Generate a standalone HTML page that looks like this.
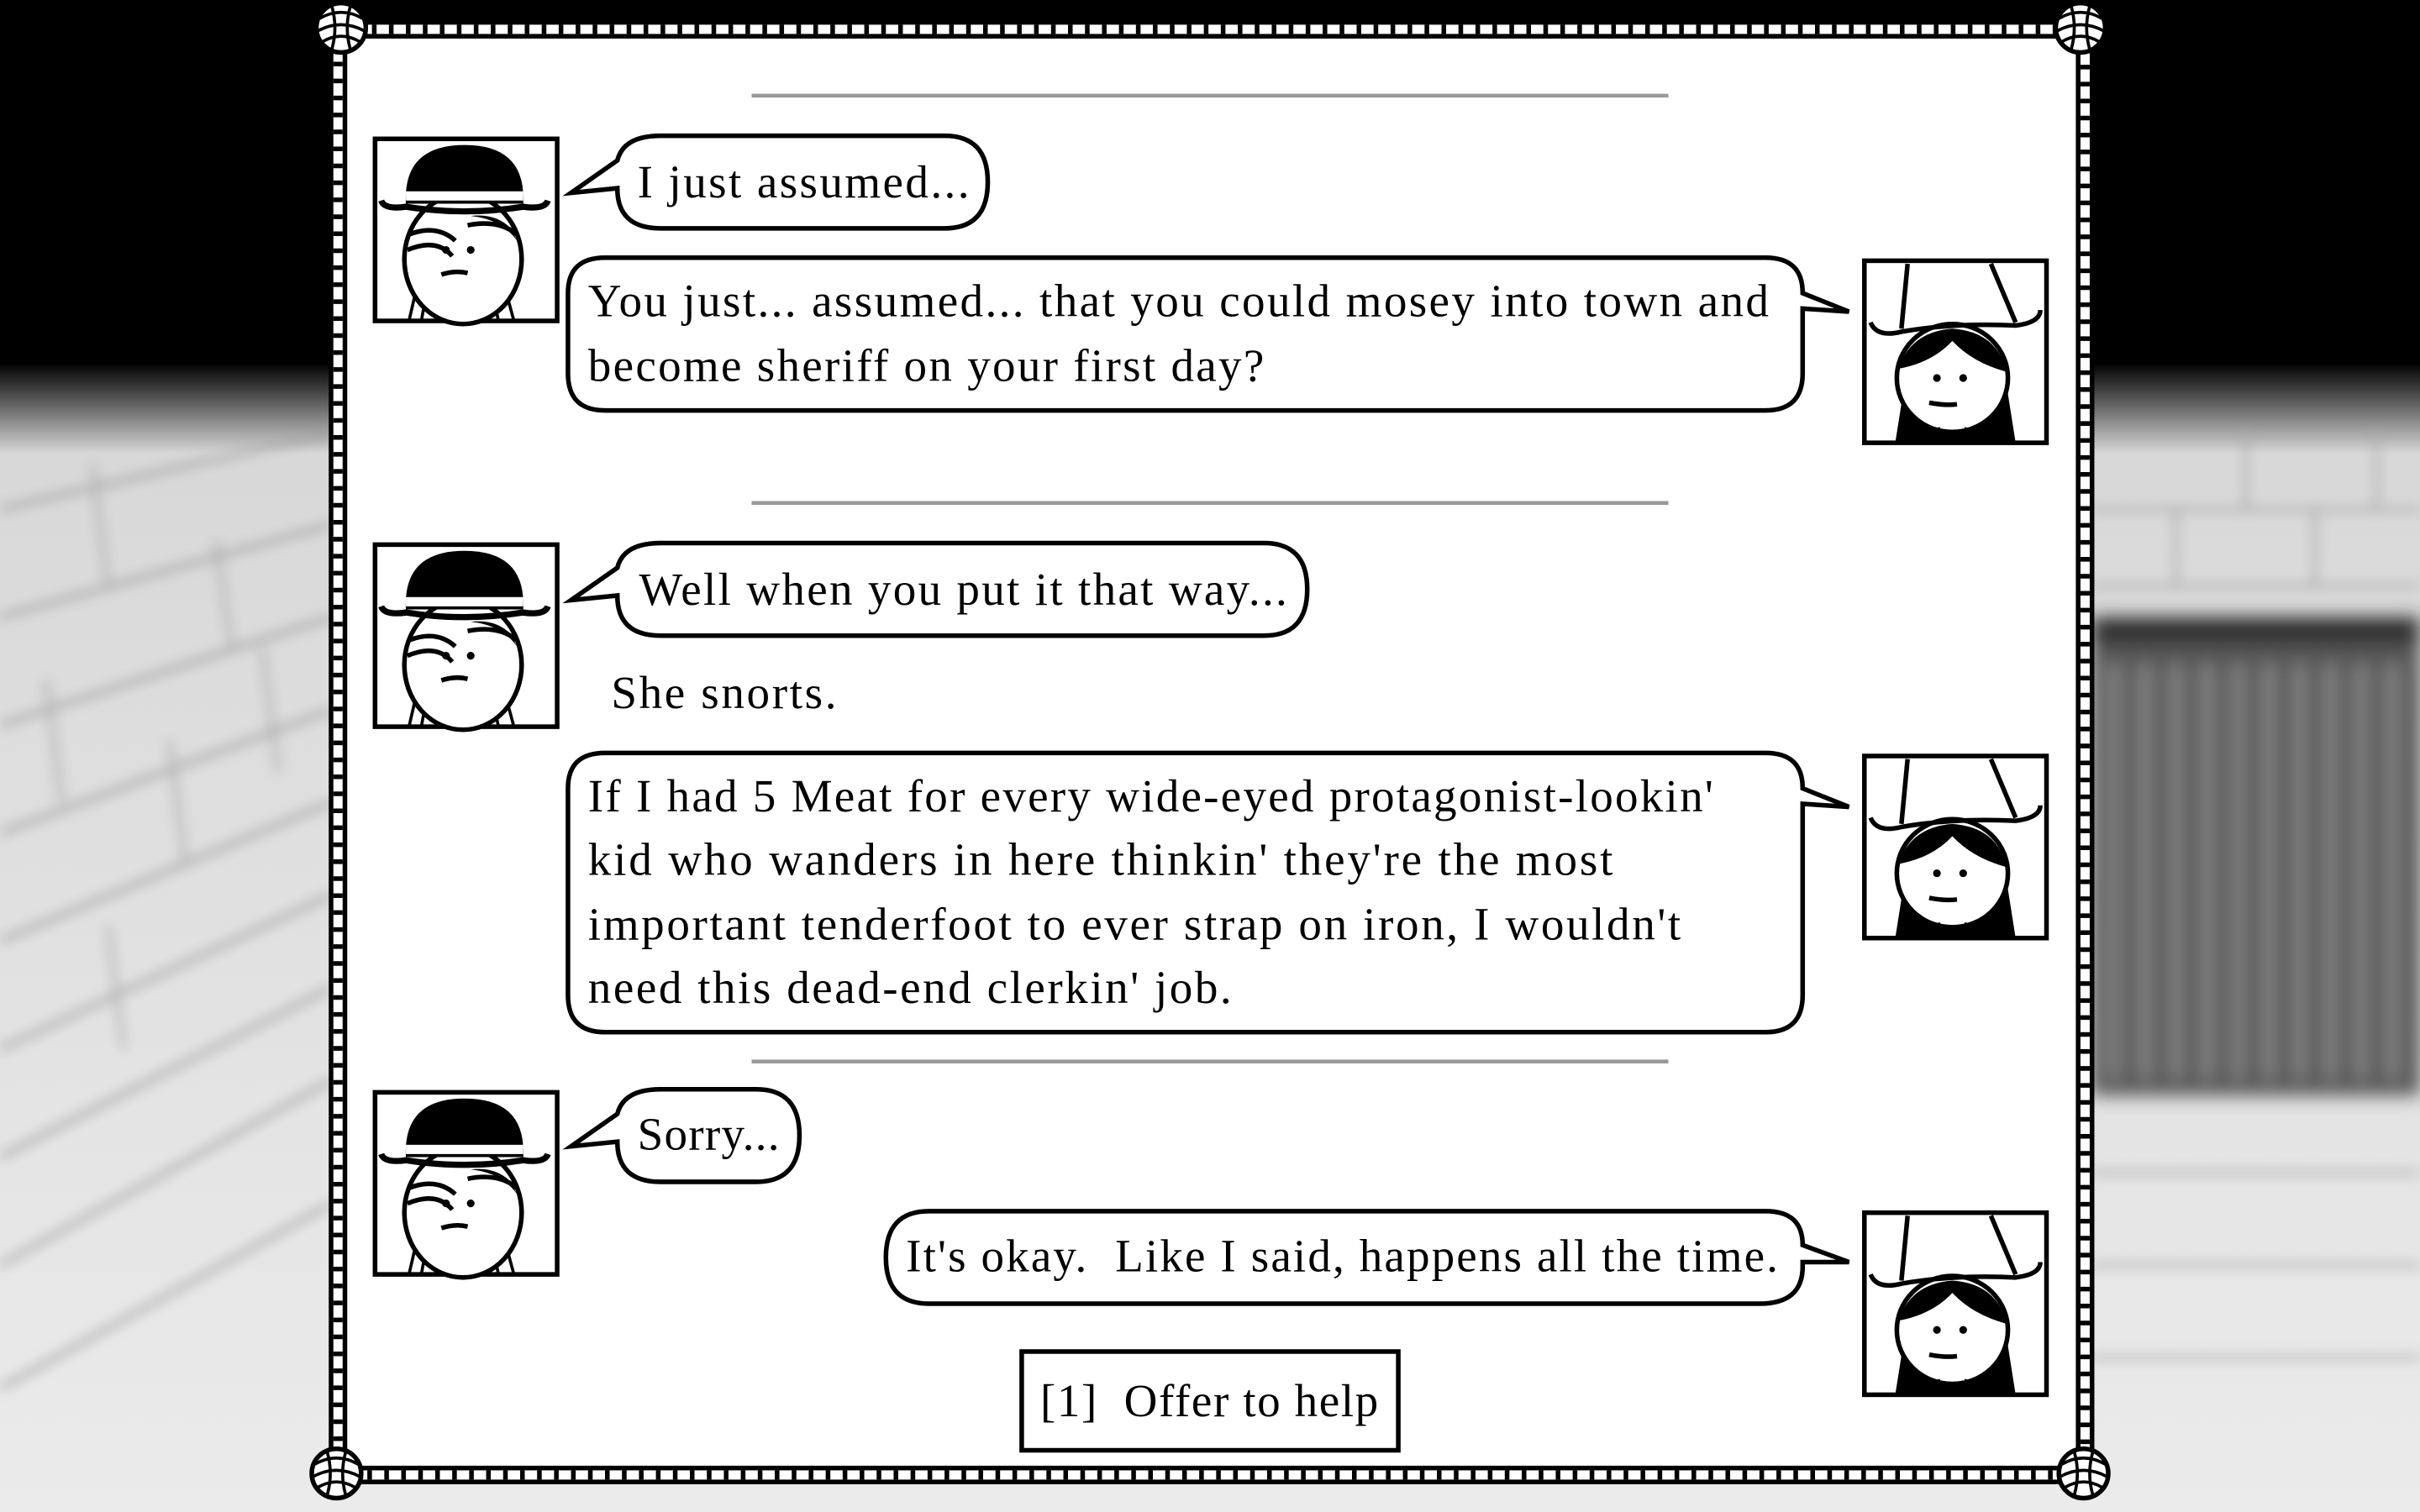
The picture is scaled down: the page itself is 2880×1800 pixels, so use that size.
<!DOCTYPE html>
<html><head><meta charset="utf-8"><style>
html,body{margin:0;padding:0;width:2880px;height:1800px;overflow:hidden;background:#000}
svg{display:block}
text{font-family:"Liberation Serif",serif;fill:#000}
</style></head><body>
<svg width="2880" height="1800" viewBox="0 0 1568 980" xmlns="http://www.w3.org/2000/svg">
<defs>
<linearGradient id="sky" x1="0" y1="0" x2="0" y2="1">
<stop offset="0" stop-color="#000"/><stop offset="0.24" stop-color="#000"/><stop offset="0.30" stop-color="#d8d8d8"/><stop offset="1" stop-color="#ebebeb"/>
</linearGradient>
<filter id="bl"><feGaussianBlur stdDeviation="4"/></filter>
<filter id="bl2"><feGaussianBlur stdDeviation="6"/></filter>
<g id="lp">
<rect x="0" y="0" width="118" height="118" fill="#fff" stroke="#000" stroke-width="3"/>
<line x1="28" y1="92" x2="22" y2="118" stroke="#000" stroke-width="2"/>
<line x1="34" y1="96" x2="30" y2="118" stroke="#000" stroke-width="2"/>
<line x1="76" y1="100" x2="80" y2="118" stroke="#000" stroke-width="2"/>
<line x1="84" y1="96" x2="90" y2="118" stroke="#000" stroke-width="2"/>
<ellipse cx="57" cy="78" rx="38" ry="42" fill="#fff" stroke="#000" stroke-width="3"/>
<path d="M22 62 Q40 55 52 66 M21 72 Q40 64 50 76 M60 56 Q80 52 92 62" stroke="#000" stroke-width="3" fill="none"/>
<path d="M62 50 Q82 52 92 66 L88 58 Q78 48 62 50Z" fill="#000"/>
<path d="M20 42 Q18 4 58 4 Q98 4 96 42Z" fill="#000"/>
<rect x="20" y="34" width="76" height="6" fill="#fff"/>
<path d="M4 40 Q6 46 20 44 Q58 50 96 44 Q110 46 112 40" stroke="#000" stroke-width="4" fill="none"/>
<circle cx="46" cy="72" r="2.5" fill="#000"/><circle cx="62" cy="72" r="2.5" fill="#000"/>
<path d="M43 88 Q52 85 60 87" stroke="#000" stroke-width="3" fill="none"/>
</g>
<g id="rp">
<rect x="0" y="0" width="118" height="118" fill="#fff" stroke="#000" stroke-width="3"/>
<path d="M20 118 L26 80 L40 60 L76 60 L92 80 L98 118Z" fill="#000"/>
<ellipse cx="57" cy="76" rx="36" ry="35" fill="#fff" stroke="#000" stroke-width="3"/>
<path d="M22 70 Q30 46 57 44 Q86 46 92 72 Q70 66 57 52 Q44 66 22 70Z" fill="#000"/>
<path d="M48 108 L50 118 M66 108 L64 118" stroke="#000" stroke-width="2"/>
<circle cx="47" cy="76" r="2.5" fill="#000"/><circle cx="64" cy="76" r="2.5" fill="#000"/>
<path d="M42 92 Q52 94 60 93" stroke="#000" stroke-width="3" fill="none"/>
<path d="M28 2 L24 44 M82 2 L98 40" stroke="#000" stroke-width="3" fill="none"/>
<path d="M4 40 Q8 50 24 46 Q58 40 98 42 Q114 40 114 32" stroke="#000" stroke-width="3" fill="none"/>
</g>
<g id="knot">
<circle r="16" fill="#fff" stroke="#000" stroke-width="3"/>
<path d="M-14 -6 Q0 -14 14 -6 M-15 2 Q0 -6 15 2 M-12 9 Q0 2 12 9 M-6 -14 Q-2 0 -6 14 M6 -14 Q2 0 6 14" stroke="#000" stroke-width="2" fill="none"/>
</g>
</defs>

<rect width="1568" height="980" fill="url(#sky)"/>
<g filter="url(#bl)" opacity="0.9">
<path d="M0 330 L215 280 M0 400 L215 340 M0 470 L215 400 M0 540 L215 460 M0 610 L215 520 M0 680 L215 580 M0 750 L215 640 M0 820 L215 700 M0 900 L215 780" stroke="#999" stroke-width="3"/>
<path d="M60 300 L70 380 M140 350 L150 420 M30 440 L40 520 M110 480 L120 560 M170 420 L180 500 M70 600 L80 680" stroke="#aaa" stroke-width="3"/>
<path d="M1355 330 H1568 M1355 380 H1568 M1455 280 V330 M1540 280 V330 M1410 330 V380 M1500 330 V380 M1355 760 H1568 M1355 820 H1568 M1355 880 H1568" stroke="#aaa" stroke-width="3"/>
</g>
<g filter="url(#bl2)">
<rect x="1355" y="410" width="213" height="300" fill="#555"/>
<path d="M1370 430 V700 M1390 430 V700 M1410 430 V700 M1430 430 V700 M1450 430 V700 M1470 430 V700 M1490 430 V700 M1510 430 V700 M1530 430 V700 M1550 430 V700" stroke="#999" stroke-width="6"/>
<rect x="1355" y="400" width="213" height="16" fill="#2a2a2a"/>
</g>

<rect x="219" y="19" width="1132" height="937" fill="#fff"/>
<rect x="219" y="19" width="1132" height="937" fill="none" stroke="#000" stroke-width="12"/>
<rect x="219" y="19" width="1132" height="937" fill="none" stroke="#fff" stroke-width="6"/>
<rect x="219" y="19" width="1132" height="937" fill="none" stroke="#000" stroke-width="6" stroke-dasharray="3 8"/>
<use href="#knot" x="221" y="18"/><use href="#knot" x="1348" y="18"/>
<use href="#knot" x="218" y="955"/><use href="#knot" x="1350" y="955"/>

<g stroke="#999" stroke-width="2.5">
<line x1="487" y1="62" x2="1081" y2="62"/><line x1="487" y1="326" x2="1081" y2="326"/><line x1="487" y1="688" x2="1081" y2="688"/>
</g>

<use href="#lp" x="243" y="90"/><use href="#lp" x="243" y="353"/><use href="#lp" x="243" y="708"/>
<use href="#rp" x="1208" y="169"/><use href="#rp" x="1208" y="490"/><use href="#rp" x="1208" y="786"/>

<g fill="#fff" stroke="#000" stroke-width="3">
<path d="M428 88 H612 Q640 88 640 118 Q640 148 612 148 H428 Q400 148 400 122 L370 125 L400 104 Q404 88 428 88Z"/>
<path d="M392 167 H1144 Q1168 167 1168 190 L1198 202 L1168 200 V242 Q1168 266 1144 266 H392 Q368 266 368 242 V190 Q368 167 392 167Z"/>
<path d="M428 352 H819 Q847 352 847 382 Q847 412 819 412 H428 Q400 412 400 386 L370 389 L400 368 Q404 352 428 352Z"/>
<path d="M392 488 H1144 Q1168 488 1168 511 L1198 523 L1168 521 V645 Q1168 669 1144 669 H392 Q368 669 368 645 V511 Q368 488 392 488Z"/>
<path d="M428 706 H490 Q518 706 518 736 Q518 766 490 766 H428 Q400 766 400 740 L370 743 L400 722 Q404 706 428 706Z"/>
<path d="M602 785 H1144 Q1168 785 1168 807 L1198 818 L1168 818 V821 Q1168 845 1140 845 H602 Q574 845 574 815 Q574 785 602 785Z"/>
<rect x="662" y="876" width="244" height="64"/>
</g>

<g font-size="30">
<text x="413" y="128" textLength="215">I just assumed...</text>
<text x="381" y="205" textLength="765">You just... assumed... that you could mosey into town and</text>
<text x="381" y="247" textLength="438">become sheriff on your first day?</text>
<text x="414" y="392" textLength="420">Well when you put it that way...</text>
<text x="396" y="459" textLength="146">She snorts.</text>
<text x="381" y="526" textLength="729">If I had 5 Meat for every wide-eyed protagonist-lookin'</text>
<text x="381" y="567" textLength="664">kid who wanders in here thinkin' they're the most</text>
<text x="381" y="609" textLength="708">important tenderfoot to ever strap on iron, I wouldn't</text>
<text x="381" y="650" textLength="417">need this dead-end clerkin' job.</text>
<text x="413" y="745" textLength="92">Sorry...</text>
<text x="587" y="824" textLength="565" xml:space="preserve">It's okay.  Like I said, happens all the time.</text>
<text x="674" y="918" textLength="219" xml:space="preserve">[1]  Offer to help</text>
</g>
</svg>
</body></html>
